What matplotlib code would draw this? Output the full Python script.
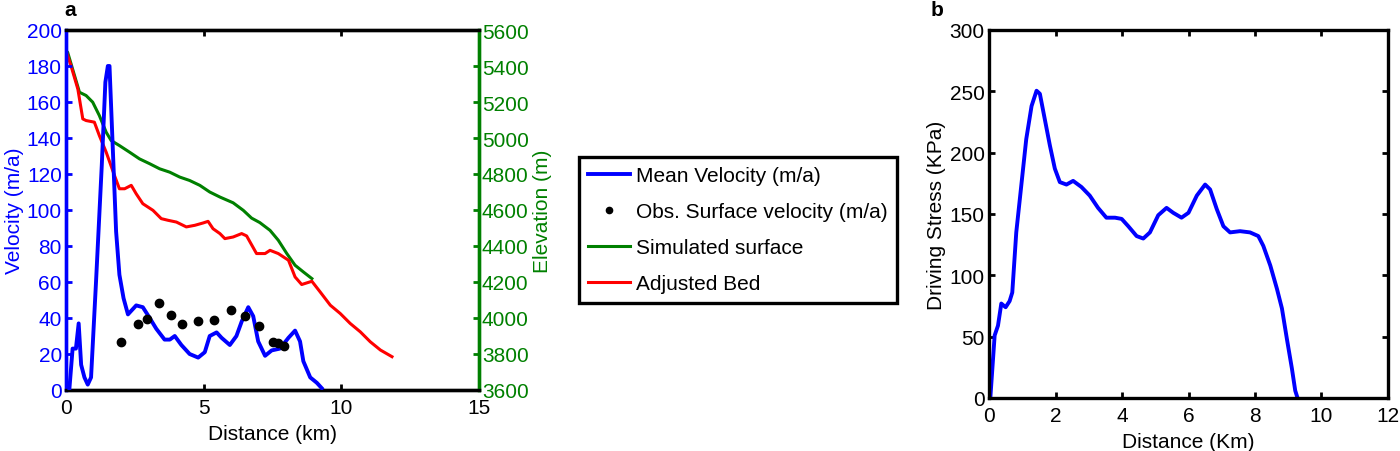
import matplotlib
matplotlib.use("Agg")
import matplotlib.pyplot as plt
from matplotlib.lines import Line2D

plt.rcParams['font.family'] = ['Liberation Sans', 'DejaVu Sans']
FS = 15
plt.rcParams['font.size'] = FS

# ---- Panel a data ----
vel_x = [0.12, 0.24, 0.36, 0.46, 0.55, 0.67, 0.79, 0.91, 1.09, 1.30, 1.43, 1.52, 1.58, 1.70,
         1.82, 1.94, 2.09, 2.25, 2.55, 2.79, 3.04, 3.28, 3.58, 3.77, 3.95, 4.19, 4.49, 4.80,
         5.04, 5.22, 5.47, 5.65, 5.95, 6.19, 6.38, 6.62, 6.80, 6.98, 7.23, 7.47, 7.77, 8.08,
         8.32, 8.50, 8.62, 8.87, 9.11, 9.29]
vel_y = [0, 23, 23, 37, 14, 7, 3, 7, 60, 125, 171, 180, 180, 134,
         88, 64, 51, 42, 47, 46, 40, 34, 28, 28, 30, 25, 20, 18,
         21, 30, 32, 29, 25, 30, 38, 46, 41, 27, 19, 22, 23, 29,
         33, 27, 16, 7, 4, 1]

obs_x = [1.98, 2.61, 2.93, 3.39, 3.80, 4.21, 4.79, 5.38, 6.01, 6.51, 7.00, 7.51, 7.71, 7.91]
obs_y = [26.8, 36.4, 39.7, 48.4, 41.6, 36.6, 38.6, 39.0, 44.7, 41.0, 35.3, 26.8, 25.9, 24.4]

surf_x = [0.0, 0.06, 0.49, 0.73, 0.97, 1.21, 1.46, 1.64, 1.94, 2.31, 2.67, 3.04, 3.40, 3.77,
          4.13, 4.49, 4.86, 5.22, 5.59, 6.07, 6.44, 6.74, 7.04, 7.41, 7.71, 8.02, 8.32, 8.62, 8.93]
surf_y = [5485, 5476, 5254, 5236, 5199, 5125, 5032, 4986, 4958, 4921, 4884, 4857, 4829, 4810,
          4783, 4764, 4737, 4700, 4672, 4640, 4598, 4555, 4530, 4487, 4432, 4358, 4293, 4256, 4219]

bed_x = [0.0, 0.18, 0.43, 0.61, 0.73, 1.03, 1.21, 1.46, 1.76, 1.94, 2.13, 2.37, 2.55, 2.79,
         3.16, 3.46, 3.70, 4.01, 4.37, 4.68, 4.98, 5.16, 5.34, 5.59, 5.77, 6.07, 6.38, 6.56,
         6.92, 7.23, 7.41, 7.71, 8.08, 8.32, 8.56, 8.93, 9.23, 9.60, 9.96, 10.32, 10.69, 11.05,
         11.42, 11.84]
bed_y = [5485, 5402, 5272, 5106, 5097, 5088, 5014, 4921, 4792, 4718, 4718, 4737, 4690, 4635,
         4598, 4552, 4543, 4533, 4506, 4515, 4528, 4537, 4496, 4469, 4441, 4450, 4469, 4456,
         4358, 4358, 4376, 4358, 4321, 4228, 4186, 4204, 4145, 4071, 4025, 3970, 3923, 3868,
         3822, 3785]

# ---- Panel b data ----
ds_x = [0.0, 0.04, 0.17, 0.27, 0.37, 0.50, 0.62, 0.70, 0.82, 0.97, 1.12, 1.28, 1.43, 1.53,
        1.68, 1.83, 1.98, 2.13, 2.33, 2.53, 2.78, 3.03, 3.28, 3.53, 3.79, 3.99, 4.19, 4.44,
        4.64, 4.84, 5.09, 5.34, 5.54, 5.79, 6.00, 6.25, 6.50, 6.65, 6.85, 7.05, 7.25, 7.55,
        7.85, 8.10, 8.25, 8.46, 8.66, 8.81, 8.96, 9.11, 9.21, 9.28]
ds_y = [0, 0, 51, 59, 77, 74, 79, 86, 135, 173, 211, 238, 250.5, 248,
        227, 206, 187, 176, 174, 177, 172, 165, 155, 147, 147, 146, 140, 132,
        130, 135, 149, 155, 151, 147, 151, 165, 174, 170, 154, 140, 135, 136,
        135, 132, 124, 108, 89, 73, 48, 24, 6, 0]

BLUE = '#0000FF'
GREEN = '#008000'
RED = '#FF0000'

fig = plt.figure(figsize=(14, 4.52), dpi=100)

# Panel a
ax = fig.add_axes([66/1400, 61/452, 413/1400, 360/452])
ax2 = ax.twinx()
l1, = ax.plot(vel_x, vel_y, color=BLUE, lw=2.8, zorder=3)
l2, = ax.plot(obs_x, obs_y, 'o', color='black', ms=6, zorder=4)
l3, = ax2.plot(surf_x, surf_y, color=GREEN, lw=2.2)
l4, = ax2.plot(bed_x, bed_y, color=RED, lw=2.2)
ax.set_zorder(ax2.get_zorder() + 1)
ax.patch.set_visible(False)

ax.set_xlim(0, 15)
ax.set_ylim(0, 200)
ax2.set_ylim(3600, 5600)
ax.set_xticks([0, 5, 10, 15])
ax.set_yticks(range(0, 201, 20))
ax2.set_yticks(range(3600, 5601, 200))
ax.set_xlabel('Distance (km)', fontsize=FS, labelpad=5)
ax.set_ylabel('Velocity (m/a)', color=BLUE, fontsize=FS, labelpad=2)
ax2.set_ylabel('Elevation (m)', color=GREEN, fontsize=FS, labelpad=3)

for a in (ax, ax2):
    for s in a.spines.values():
        s.set_linewidth(2.4)
    a.spines['left'].set_color(BLUE)
    a.spines['right'].set_color(GREEN)
    a.spines['top'].set_color('black')
    a.spines['bottom'].set_color('black')

ax.tick_params(axis='x', direction='in', top=True, length=4, width=2, labelsize=FS, colors='black', pad=6)
ax.tick_params(axis='y', direction='in', length=4, width=2, labelsize=FS, colors=BLUE, pad=3)
ax2.tick_params(axis='y', direction='in', length=4, width=2, labelsize=FS, colors=GREEN, pad=2)

fig.text(64/1400, 1 - 11/452, 'a', fontsize=FS, fontweight='bold', va='center', ha='left')

# Legend
handles = [l1, Line2D([], [], ls='none', marker='o', color='black', ms=4.5), l3, l4]
labels = ['Mean Velocity (m/a)', 'Obs. Surface velocity (m/a)', 'Simulated surface', 'Adjusted Bed']
leg = fig.legend(handles, labels, loc='center', bbox_to_anchor=(738/1400, 1 - 230.5/452),
                 fontsize=FS, frameon=True, fancybox=False, edgecolor='black', framealpha=1,
                 handlelength=2.0, handletextpad=0.3, labelspacing=0.82, borderpad=0.45,
                 borderaxespad=0)
leg.get_frame().set_linewidth(2.4)

# Panel b
bx = fig.add_axes([989/1400, 53/452, 399/1400, 368/452])
bx.plot(ds_x, ds_y, color=BLUE, lw=2.8)
bx.set_xlim(0, 12)
bx.set_ylim(0, 300)
bx.set_xticks(range(0, 13, 2))
bx.set_yticks(range(0, 301, 50))
bx.set_xlabel('Distance (Km)', fontsize=FS, labelpad=5)
bx.set_ylabel('Driving Stress (KPa)', fontsize=FS, labelpad=3)
for s in bx.spines.values():
    s.set_linewidth(2.4)
bx.tick_params(direction='in', top=True, right=True, length=4, width=2, labelsize=FS, pad=6)
bx.tick_params(axis='y', pad=3)
fig.text(931/1400, 1 - 11/452, 'b', fontsize=FS, fontweight='bold', va='center', ha='left')

fig.savefig('out.png', dpi=100)
